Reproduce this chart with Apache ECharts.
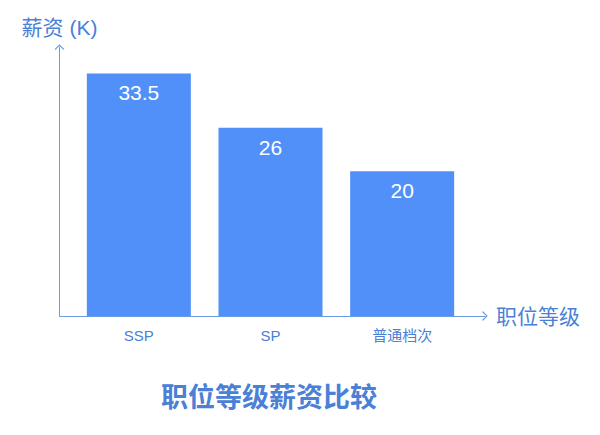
<!DOCTYPE html>
<html lang="zh">
<head>
    <meta charset="UTF-8">
    <title>职位等级薪资比较</title>
    <script src="https://cdn.jsdelivr.net/npm/echarts@6/dist/echarts.min.js"></script>
    <style type="text/css">
        html, body {
            margin: 0;
            height: 100%;
            background: #fff;
        }
    </style>
</head>
<body>

<div id="main" style="width: 600px;height:435px;"></div>

<script>
    // 数据
    const levels = ['SSP', 'SP', '普通档次'];
    const salary = [33.5, 26, 20];
    const chartTitle = '职位等级薪资比较';
    const xName = '职位等级';
    const yName = '薪资 (K)';

    const textBlue = '#4a80d6';
    const lineBlue = '#6b9be0';
    const barBlue = '#5090f8';
    const font = "'Liberation Sans', 'Noto Sans CJK SC', sans-serif";
    // 细的箭头
    const chevron = 'path://M0,5 L5,0 L10,5 L8.8,5.6 L5,1.6 L1.2,5.6 Z';

    const myChart = echarts.init(document.getElementById('main'), null, {renderer: 'svg'});
    const option = {
        animation: false,
        textStyle: {fontFamily: font},
        title: {
            text: chartTitle,
            left: 161,
            top: 384,
            padding: 0,
            textStyle: {
                color: textBlue,
                fontSize: 27,
                fontWeight: 'bold',
                fontFamily: font
            }
        },
        grid: [
            // 柱子
            {left: 73, width: 395, top: 60, bottom: 119},
            // 坐标轴线
            {left: 59.5, width: 425.5, top: 47, bottom: 119}
        ],
        xAxis: [{
            type: 'category',
            gridIndex: 0,
            data: levels,
            axisLine: {show: false},
            axisTick: {show: false},
            axisLabel: {
                color: textBlue,
                fontSize: 15,
                margin: 12,
                fontFamily: font
            }
        }, {
            type: 'value',
            gridIndex: 1,
            min: 0,
            max: 1,
            name: xName,
            nameLocation: 'end',
            nameGap: 11,
            nameTextStyle: {color: textBlue, fontSize: 21, fontFamily: font},
            axisLine: {
                show: true,
                symbol: ['none', chevron],
                symbolSize: [10, 5.6],
                lineStyle: {color: lineBlue, width: 1}
            },
            axisTick: {show: false},
            axisLabel: {show: false},
            splitLine: {show: false}
        }],
        yAxis: [{
            type: 'value',
            gridIndex: 0,
            min: 0,
            max: 35.36,
            show: false,
            splitLine: {show: false}
        }, {
            type: 'value',
            gridIndex: 1,
            min: 0,
            max: 1,
            name: yName,
            nameLocation: 'end',
            nameGap: 9,
            nameTextStyle: {color: textBlue, fontSize: 21, fontFamily: font, align: 'center'},
            axisLine: {
                show: true,
                symbol: ['none', chevron],
                symbolSize: [10, 5.6],
                lineStyle: {color: lineBlue, width: 1}
            },
            axisTick: {show: false},
            axisLabel: {show: false},
            splitLine: {show: false}
        }],
        series: [{
            type: 'bar',
            xAxisIndex: 0,
            yAxisIndex: 0,
            data: salary,
            barWidth: 104,
            itemStyle: {color: barBlue},
            label: {
                show: true,
                position: 'insideTop',
                distance: 9,
                color: '#fff',
                fontSize: 21,
                fontFamily: font
            }
        }]
    };

    myChart.setOption(option);
</script>
</body>
</html>
